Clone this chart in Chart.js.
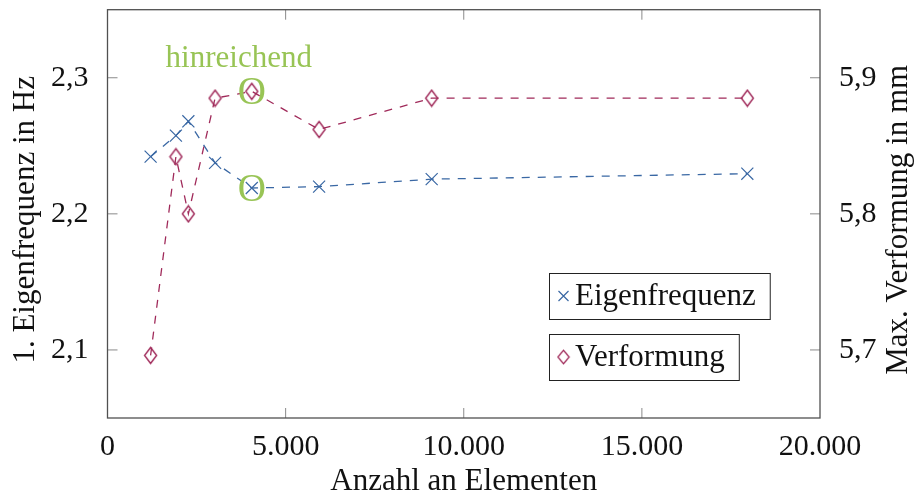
<!DOCTYPE html>
<html>
<head>
<meta charset="utf-8">
<script src="https://cdn.jsdelivr.net/npm/chart.js@4"></script>
<style>
  html, body { margin: 0; padding: 0; background: #fff; }
  canvas { display: block; }
</style>
</head>
<body>
<canvas id="chart" width="915" height="495"></canvas>
<script>
// Data
const elements = [1210, 1920, 2270, 3020, 4050, 5940, 9100, 17960];
const eigenfrequenz = [2.242, 2.2575, 2.268, 2.2375, 2.219, 2.220, 2.2255, 2.2295];
const verformung = [5.696, 5.842, 5.800, 5.885, 5.890, 5.862, 5.885, 5.885];
const xTicks = [0, 5000, 10000, 15000, 20000];
const yTicks = [2.1, 2.2, 2.3];
const y1Ticks = [5.7, 5.8, 5.9];
const markedIndex = 4; // "hinreichend"

const blue = '#3a68a4';
const red = '#a02a5a';
const green = '#98c455';
const serif = "'Liberation Serif', 'DejaVu Serif', serif";
const tickFont = { family: serif, size: 30 };

const fmtX = v => String(v).replace(/\B(?=(\d{3})+(?!\d))/g, '.');
const fmtY = v => v.toFixed(1).replace('.', ',');

// diamond mark (taller than wide, like the tikz one)
const diamond = document.createElement('canvas');
diamond.width = 15;
diamond.height = 19;
(function () {
    const c = diamond.getContext('2d');
    c.strokeStyle = red;
    c.lineWidth = 1.4;
    c.beginPath();
    c.moveTo(7.5, 1.5);
    c.lineTo(13.5, 9.5);
    c.lineTo(7.5, 17.5);
    c.lineTo(1.5, 9.5);
    c.closePath();
    c.stroke();
})();

const framePlugin = {
    id: 'frame',
    afterDatasetsDraw(chart) {
        const ctx = chart.ctx;
        const a = chart.chartArea;
        const sx = chart.scales.x, sy = chart.scales.y, sy1 = chart.scales.y1;
        const tl = 10;
        ctx.save();
        // inward ticks
        ctx.strokeStyle = '#8a8a8a';
        ctx.lineWidth = 1;
        ctx.beginPath();
        xTicks.slice(1, -1).forEach(v => {
            const px = sx.getPixelForValue(v);
            ctx.moveTo(px, a.bottom); ctx.lineTo(px, a.bottom - tl);
            ctx.moveTo(px, a.top); ctx.lineTo(px, a.top + tl);
        });
        yTicks.forEach(v => {
            const py = sy.getPixelForValue(v);
            ctx.moveTo(a.left, py); ctx.lineTo(a.left + tl, py);
        });
        y1Ticks.forEach(v => {
            const py = sy1.getPixelForValue(v);
            ctx.moveTo(a.right, py); ctx.lineTo(a.right - tl, py);
        });
        ctx.stroke();
        // box
        ctx.strokeStyle = '#505050';
        ctx.lineWidth = 1.3;
        ctx.strokeRect(a.left, a.top, a.right - a.left, a.bottom - a.top);

        // "hinreichend" marks
        const mx = sx.getPixelForValue(elements[markedIndex]);
        const my1 = sy.getPixelForValue(eigenfrequenz[markedIndex]);
        const my2 = sy1.getPixelForValue(verformung[markedIndex]);
        ctx.fillStyle = green;
        ctx.font = '39px ' + serif;
        ctx.textAlign = 'center';
        ctx.textBaseline = 'alphabetic';
        const m = ctx.measureText('O');
        const off = (m.actualBoundingBoxAscent - m.actualBoundingBoxDescent) / 2;
        ctx.fillText('O', mx, my1 + off);
        ctx.fillText('O', mx, my2 + off);
        ctx.font = '31px ' + serif;
        ctx.fillText('hinreichend', mx - 13, my2 - 24);

        // axis titles
        ctx.fillStyle = '#111';
        ctx.font = '31px ' + serif;
        ctx.textAlign = 'center';
        ctx.fillText('Anzahl an Elementen', (a.left + a.right) / 2, 490);
        const cy = (a.top + a.bottom) / 2 + 6;
        ctx.save();
        ctx.translate(34, cy);
        ctx.rotate(-Math.PI / 2);
        ctx.fillText('1. Eigenfrequenz in Hz', 0, 0);
        ctx.restore();
        ctx.save();
        ctx.translate(907, cy);
        ctx.rotate(-Math.PI / 2);
        ctx.fillText('Max. Verformung in mm', 0, 0);
        ctx.restore();

        // legend boxes
        const entries = [
            { text: 'Eigenfrequenz', top: 273, mark: 'cross' },
            { text: 'Verformung', top: 334, mark: 'diamond' }
        ];
        const left = a.right - 271;
        ctx.font = '31px ' + serif;
        ctx.textAlign = 'left';
        entries.forEach(e => {
            const w = ctx.measureText(e.text).width;
            const bw = 26 + w + 14, bh = 46;
            ctx.fillStyle = '#fff';
            ctx.fillRect(left, e.top, bw, bh);
            ctx.strokeStyle = '#222';
            ctx.lineWidth = 1;
            ctx.strokeRect(left + 0.5, e.top + 0.5, bw, bh);
            const mcx = left + 14.5, mcy = e.top + bh / 2;
            if (e.mark === 'cross') {
                ctx.strokeStyle = blue;
                ctx.lineWidth = 1.2;
                ctx.beginPath();
                ctx.moveTo(mcx - 5, mcy - 5); ctx.lineTo(mcx + 5, mcy + 5);
                ctx.moveTo(mcx - 5, mcy + 5); ctx.lineTo(mcx + 5, mcy - 5);
                ctx.stroke();
            } else {
                ctx.drawImage(diamond, mcx - 7, mcy - 8, 14, 16);
            }
            ctx.fillStyle = '#111';
            ctx.fillText(e.text, left + 26, e.top + 32);
        });
        ctx.restore();
    }
};

new Chart(document.getElementById('chart'), {
    type: 'line',
    data: {
        datasets: [{
            label: 'Eigenfrequenz',
            data: elements.map((x, i) => ({ x: x, y: eigenfrequenz[i] })),
            yAxisID: 'y',
            borderColor: blue,
            borderWidth: 1.3,
            borderDash: [8, 8],
            pointStyle: 'crossRot',
            pointRadius: 8.5,
            pointBorderColor: blue,
            pointBorderWidth: 1.2,
            fill: false,
            tension: 0
        }, {
            label: 'Verformung',
            data: elements.map((x, i) => ({ x: x, y: verformung[i] })),
            yAxisID: 'y1',
            borderColor: red,
            borderWidth: 1.3,
            borderDash: [8, 8],
            pointStyle: diamond,
            pointRadius: 8,
            fill: false,
            tension: 0
        }]
    },
    options: {
        responsive: false,
        devicePixelRatio: 1,
        animation: false,
        layout: { padding: { top: 8, left: 0, right: 0, bottom: 0 } },
        plugins: { legend: { display: false }, tooltip: { enabled: false } },
        scales: {
            x: {
                type: 'linear',
                position: 'bottom',
                min: 0,
                max: 20000,
                afterBuildTicks: s => { s.ticks = xTicks.map(v => ({ value: v })); },
                afterFit: s => { s.height = 77; s.paddingLeft = 0; s.paddingRight = 0; },
                grid: { display: false },
                border: { display: false },
                ticks: { font: tickFont, color: '#111', padding: 3, maxRotation: 0, autoSkip: false, callback: fmtX }
            },
            y: {
                position: 'left',
                min: 2.05,
                max: 2.35,
                afterBuildTicks: s => { s.ticks = yTicks.map(v => ({ value: v })); },
                afterFit: s => { s.width = 107.5; s.paddingTop = 0; s.paddingBottom = 0; },
                grid: { display: false },
                border: { display: false },
                ticks: { font: tickFont, color: '#111', padding: 11, callback: fmtY }
            },
            y1: {
                position: 'right',
                min: 5.65,
                max: 5.95,
                afterBuildTicks: s => { s.ticks = y1Ticks.map(v => ({ value: v })); },
                afterFit: s => { s.width = 95; s.paddingTop = 0; s.paddingBottom = 0; },
                grid: { display: false },
                border: { display: false },
                ticks: { font: tickFont, color: '#111', padding: 11, callback: fmtY }
            }
        }
    },
    plugins: [framePlugin]
});
</script>
</body>
</html>
